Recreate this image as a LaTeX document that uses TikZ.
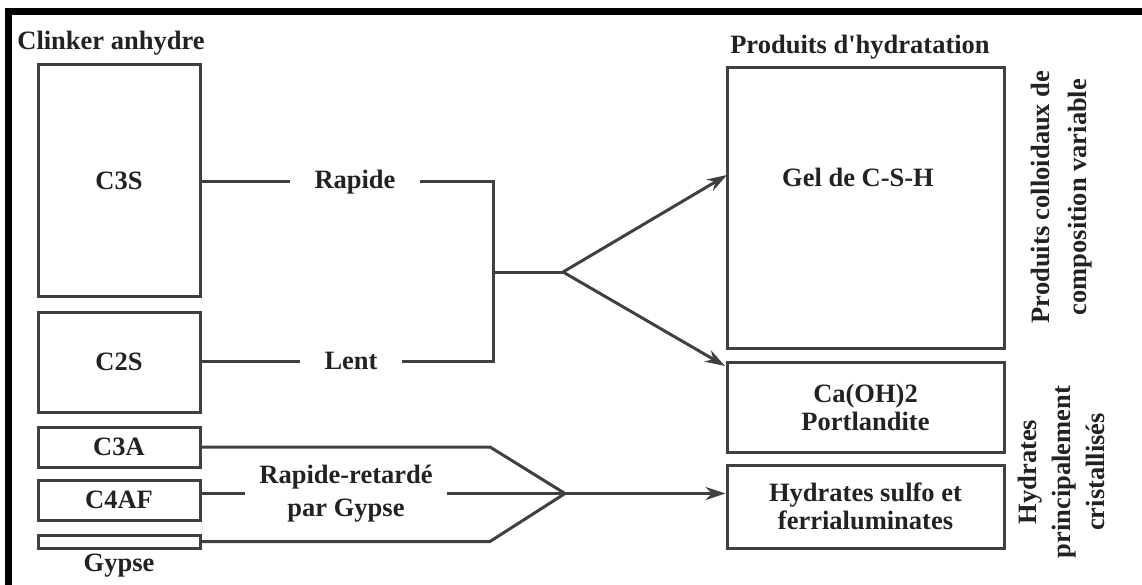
\documentclass[tikz,border=0pt]{standalone}
\usepackage{fontspec}
\setmainfont{Liberation Serif}
\usetikzlibrary{arrows.meta}
\definecolor{linegray}{HTML}{404040}
\definecolor{inkgray}{HTML}{222222}

\begin{document}
\begin{tikzpicture}
[x=1pt,y=-1pt]
\tikzstyle{every node}=[text=inkgray,font=\bfseries\fontsize{26.5}{28}\selectfont,align=center,inner sep=0pt]
\tikzstyle{box}=[draw=linegray,line width=3pt,minimum width=162pt]
\tikzstyle{prodbox}=[draw=linegray,line width=3pt,minimum width=277pt]
\tikzstyle{conn}=[draw=linegray,line width=3pt]
\tikzstyle{arr}=[conn,-{Stealth[length=20pt,width=13pt]}]
\tikzstyle{speed}=[inner xsep=24pt]
\useasboundingbox (0,0) rectangle (1142,585);
\draw[line width=7pt] (8.5,585) -- (8.5,11.5) -- (1142,11.5);
% clinker
\node (clinker) at (111,43) {Clinker anhydre};
\node[box,minimum height=231pt] (c3s) at (119,180.5) {C3S};
\node[box,minimum height=100pt] (c2s) at (119,362) {C2S};
\node[box,minimum height=40pt] (c3a) at (119,447) {C3A};
\node[box,minimum height=40pt] (c4af) at (119,500) {C4AF};
\node[box,minimum height=13pt] (gyp) at (119,541.5) {};
\node (gyplbl) at (119,566) {Gypse};
% silicates
\node[speed] (rapide) at (355,182) {Rapide};
\node[speed] (lent) at (351,361) {Lent};
\coordinate (merge) at (493,272);
\coordinate (fork) at (563,272);
\draw[conn] (c3s.east |- rapide) -- (rapide.west);
\draw[conn] (rapide.east) -| (merge);
\draw[conn] (c2s.east |- lent) -- (lent.west);
\draw[conn] (lent.east) -| (merge) -- (fork);
% produits
\node (produits) at (860,47) {Produits d\textquotesingle hydratation};
\node[prodbox,minimum height=280pt] (gel) at (865.5,208) {};
\node (geltxt) at (858,177) {Gel de C-S-H};
\node[prodbox,minimum height=90pt] (port) at (865.5,407) {Ca(OH)2\\Portlandite};
\node[prodbox,minimum height=83pt] (hyd) at (865.5,506.5) {Hydrates sulfo et\\ferrialuminates};
\coordinate (gelin) at (727,175);
\coordinate (portin) at (725,366);
\draw[arr] (fork) -- (gelin);
\draw[arr] (fork) -- (portin);
% aluminates
\node[font=\bfseries\fontsize{26.5}{33}\selectfont,inner xsep=14pt] (rr) at (346,493.5) {Rapide-retardé\\par Gypse};
\coordinate (tipb) at (565,493.5);
\draw[conn] (c3a.east) -- (490,447) -- (tipb);
\draw[conn] (gyp.east) -- (490,541.5) -- (tipb);
\draw[conn] (c4af.east |- rr) -- (rr.west);
\draw[arr] (rr.east) -- (tipb) -- (hyd.west |- tipb);
% familles
\node[rotate=90,font=\bfseries\fontsize{26.5}{37}\selectfont] (colloid) at (1061.5,197) {Produits colloidaux de\\composition variable};
\node[rotate=90,font=\bfseries\fontsize{26.5}{34}\selectfont] (cristal) at (1061,472) {Hydrates\\principalement\\cristallisés};
\end{tikzpicture}
\end{document}
